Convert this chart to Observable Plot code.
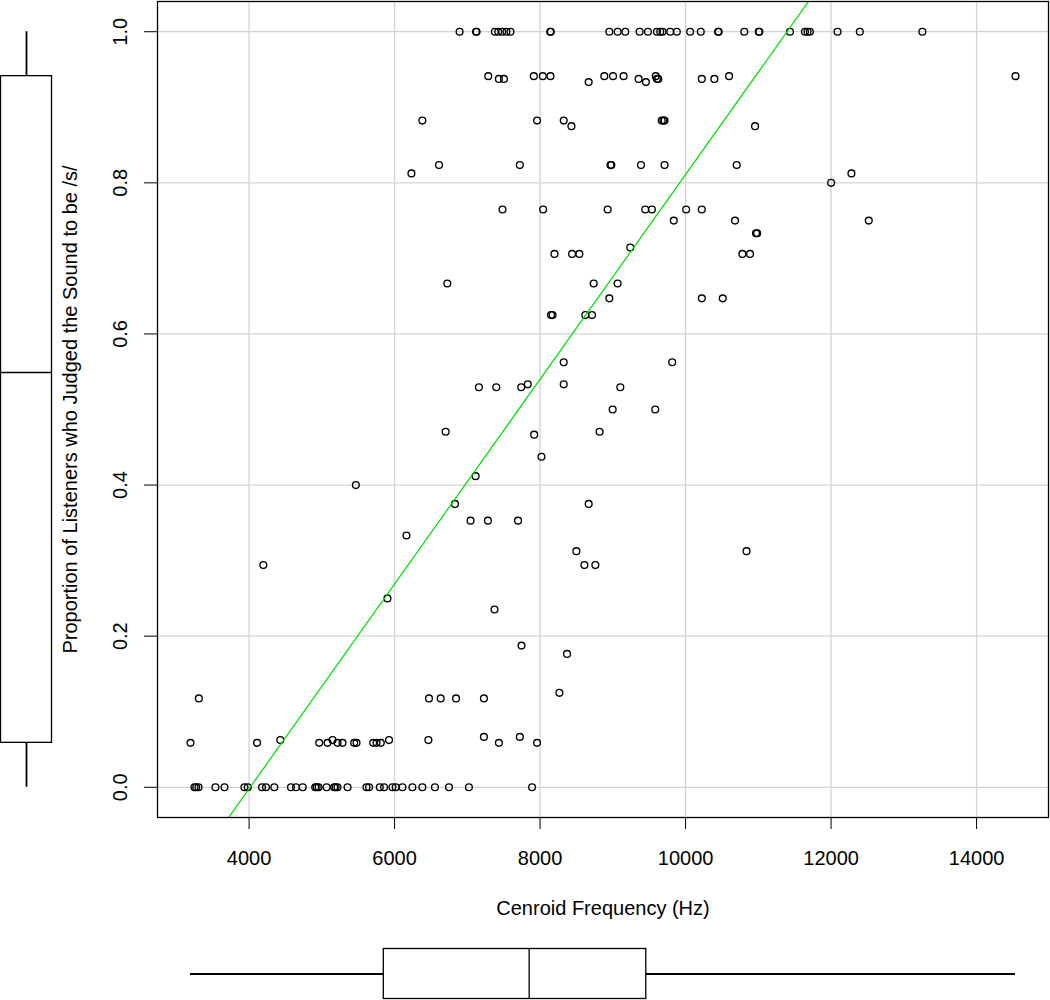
<!DOCTYPE html>
<html>
<head>
<meta charset="utf-8">
<script src="https://cdn.jsdelivr.net/npm/d3@7"></script>
<script src="https://cdn.jsdelivr.net/npm/@observablehq/plot@0.6"></script>
<style>
  body { margin: 0; background: #fff; }
  #wrap { position: relative; width: 1050px; height: 1000px; }
  #wrap svg { position: absolute; }
</style>
</head>
<body>
<div id="wrap"></div>
<script>
// Proportion levels (y) and the centroid frequencies (Hz) observed at each level
const propLevels = [1.0, 0.9412, 0.9375, 0.9333, 0.8824, 0.875, 0.8235, 0.8125, 0.8, 0.7647,
  0.75, 0.7333, 0.7143, 0.7059, 0.6667, 0.6471, 0.625, 0.5625, 0.5333, 0.5294,
  0.5, 0.4706, 0.4667, 0.4375, 0.4118, 0.4, 0.375, 0.3529, 0.3333, 0.3125,
  0.2941, 0.25, 0.2353, 0.1875, 0.1765, 0.125, 0.1176, 0.0667, 0.0625, 0.0588, 0.0];

const hzAtLevel = [
  [6894, 7120, 7127, 7379, 7425, 7479, 7538, 7593, 8140, 8147, 8952, 9066, 9171, 9368, 9483, 9606, 9652, 9684, 9789, 9880, 10063, 10209, 10447, 10455, 10807, 11006, 11014, 11435, 11641, 11677, 11709, 12089, 12395, 13255],
  [7288, 7914, 8038, 8143, 8883, 9003, 9148, 9590, 10598, 14535],
  [7434, 7503, 9354, 9606, 9625, 10223, 10396],
  [8668, 9455],
  [6382, 7959, 8325, 9672, 9695, 9711],
  [8431, 10955],
  [6611, 7722, 8968, 8980, 9387, 9711, 10703],
  [6232, 12280],
  [12001],
  [7484, 8042, 8929, 9446, 9537, 10008, 10223],
  [9838, 10680, 12518],
  [10968, 10984],
  [9240],
  [8198, 8440, 8540, 10781, 10886],
  [6725, 8737, 9066],
  [8952, 10223, 10511],
  [8150, 8172, 8622, 8714],
  [8325, 9816],
  [7831, 8325],
  [7159, 7398, 7741, 9103],
  [8998, 9583],
  [6702, 8818],
  [7919],
  [8019],
  [7114],
  [5468],
  [6830, 8668],
  [7045, 7283, 7697],
  [6163],
  [8499, 10838],
  [4196, 8609, 8760],
  [5902],
  [7374],
  [7745],
  [8371],
  [8266],
  [3310, 6473, 6634, 6845, 7228],
  [7228, 7722],
  [4429, 5148, 5924, 6465],
  [3195, 4110, 4964, 5079, 5216, 5285, 5445, 5477, 5706, 5752, 5811, 7434, 7959],
  [3250, 3273, 3305, 3538, 3662, 3936, 3982, 4178, 4233, 4347, 4576, 4645, 4737, 4909, 4930, 4956, 5066, 5170, 5190, 5216, 5354, 5614, 5650, 5797, 5856, 5971, 6016, 6108, 6245, 6382, 6555, 6748, 7022, 7890]
];

// Tick values
const xTicks = [4000, 6000, 8000, 10000, 12000, 14000];
const yTicks = [0.0, 0.2, 0.4, 0.6, 0.8, 1.0];

// Fitted regression line (abline)
const fitIntercept = -0.544;
const fitSlope = 0.0001355;

// Marginal boxplot five-number summaries [min, Q1, median, Q3, max]
const hzBox = [3195, 5852, 7850, 9460, 14535];
const propBox = [0.0, 0.0588, 0.549, 0.9412, 1.0];

// Labels
const xTitle = "Cenroid Frequency (Hz)";
const yTitle = "Proportion of Listeners who Judged the Sound to be /s/";

// ---- build table ----
const data = propLevels.flatMap((p, i) => hzAtLevel[i].map(h => ({hz: h, p})));

const ext = d3.extent(data, d => d.hz);
const pad = (ext[1] - ext[0]) * 0.04;
const xDomain = [ext[0] - pad, ext[1] + pad];
const yDomain = [-0.04, 1.04];

const font = "'Liberation Sans', Arial, Helvetica, sans-serif";
const W = 1050, H = 1000, ML = 157, MR = 2, MT = 1, MB = 183;

const main = Plot.plot({
  width: W, height: H,
  marginLeft: ML, marginRight: MR, marginTop: MT, marginBottom: MB,
  style: {fontFamily: font, fontSize: "20px", background: "white", color: "black"},
  x: {domain: xDomain, ticks: xTicks, tickSize: 12, tickFormat: () => "", label: null},
  y: {domain: yDomain, ticks: yTicks, tickSize: 13, tickFormat: () => "", label: null},
  marks: [
    Plot.ruleX(xTicks, {x: d => d, stroke: "#d3d3d3", strokeWidth: 1.3}),
    Plot.ruleY(yTicks, {y: d => d, stroke: "#d3d3d3", strokeWidth: 1.3}),
    Plot.dot(data, {x: "hz", y: "p", r: 3.4, stroke: "black", strokeWidth: 1.35, fill: "none"}),
    Plot.line(xDomain, {x: d => d, y: d => fitIntercept + fitSlope * d, stroke: "#00dd00", strokeWidth: 1.2, clip: true}),
    Plot.frame({stroke: "black", strokeWidth: 1.3}),
    Plot.text(xTicks, {x: d => d, text: d => String(d), frameAnchor: "bottom", dy: 47, textAnchor: "middle", fontSize: 20}),
    Plot.text(yTicks, {y: d => d, text: d => d.toFixed(1), frameAnchor: "left", dx: -37, rotate: -90, textAnchor: "middle", fontSize: 20}),
    Plot.text([xTitle], {text: d => d, frameAnchor: "bottom", dy: 97, textAnchor: "middle", fontSize: 20}),
    Plot.text([yTitle], {text: d => d, frameAnchor: "left", dx: -87, rotate: -90, textAnchor: "middle", fontSize: 20})
  ]
});
main.style.left = "0px"; main.style.top = "0px";

// Left marginal boxplot (proportion)
const leftBox = Plot.plot({
  width: 53, height: H,
  marginLeft: 0, marginRight: 0, marginTop: MT, marginBottom: MB,
  style: {background: "transparent"},
  x: {domain: [0, 1], range: [0.5, 51.5], axis: null},
  y: {domain: yDomain, axis: null},
  marks: [
    Plot.ruleX([propBox], {x: () => 0.5, y1: d => d[0], y2: d => d[1], stroke: "black", strokeWidth: 1.8}),
    Plot.ruleX([propBox], {x: () => 0.5, y1: d => d[3], y2: d => d[4], stroke: "black", strokeWidth: 1.8}),
    Plot.rect([propBox], {x1: () => 0, x2: () => 1, y1: d => d[1], y2: d => d[3], fill: "white", stroke: "black", strokeWidth: 1.3}),
    Plot.ruleY([propBox], {y: d => d[2], x1: () => 0, x2: () => 1, stroke: "black", strokeWidth: 1.3})
  ]
});
leftBox.style.left = "0px"; leftBox.style.top = "0px";

// Bottom marginal boxplot (frequency)
const bottomBox = Plot.plot({
  width: W, height: 54,
  marginLeft: ML, marginRight: MR, marginTop: 0, marginBottom: 0,
  style: {background: "transparent"},
  x: {domain: xDomain, axis: null},
  y: {domain: [0, 1], range: [2.5, 52.5], axis: null},
  marks: [
    Plot.ruleY([hzBox], {y: () => 0.5, x1: d => d[0], x2: d => d[1], stroke: "black", strokeWidth: 1.8}),
    Plot.ruleY([hzBox], {y: () => 0.5, x1: d => d[3], x2: d => d[4], stroke: "black", strokeWidth: 1.8}),
    Plot.rect([hzBox], {x1: d => d[1], x2: d => d[3], y1: () => 0, y2: () => 1, fill: "white", stroke: "black", strokeWidth: 1.3}),
    Plot.ruleX([hzBox], {x: d => d[2], y1: () => 0, y2: () => 1, stroke: "black", strokeWidth: 1.3})
  ]
});
bottomBox.style.left = "0px"; bottomBox.style.top = "946px";

const wrap = document.getElementById("wrap");
wrap.appendChild(main);
wrap.appendChild(leftBox);
wrap.appendChild(bottomBox);
</script>
</body>
</html>
